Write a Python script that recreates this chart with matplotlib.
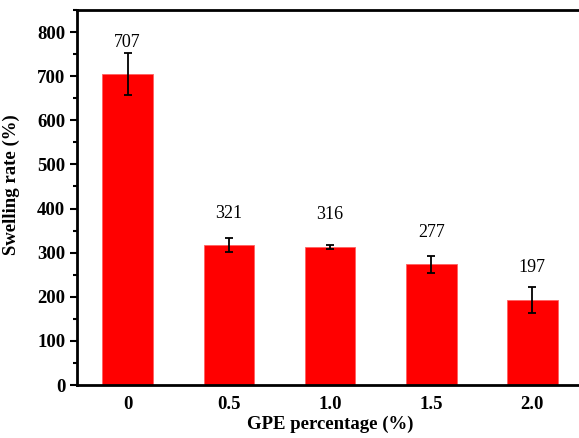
import matplotlib.pyplot as plt
from matplotlib.ticker import MultipleLocator

plt.rcParams["font.family"] = ["Liberation Serif", "DejaVu Serif"]

# data
gpe = ["0", "0.5", "1.0", "1.5", "2.0"]
swelling = [705, 317, 313, 274, 193]
err = [47, 16, 4, 19, 29]
labels = ["707", "321", "316", "277", "197"]

W, H = 579, 438
fig = plt.figure(figsize=(W / 100, H / 100), dpi=100)
ax = fig.add_axes([77 / W, 1 - 385 / H, 506 / W, 375 / H])

x = list(range(len(gpe)))
ax.bar(x, swelling, width=0.5, color="#ff0000", edgecolor="#ff6060", linewidth=0.6,
       yerr=err, error_kw=dict(ecolor="black", elinewidth=1.3, capsize=3, capthick=1.3))

# value labels sit a fixed distance above each bar top
for xi, h, lab in zip(x, swelling, labels):
    ax.annotate(lab, (xi, h), xytext=(0, 23), textcoords="offset points",
                ha="center", va="center", fontsize=13)

ax.set_xlim(-0.5, 4.5)
ax.set_ylim(0, 850)
ax.set_xticks(x)
ax.set_xticklabels(gpe)
ax.yaxis.set_major_locator(MultipleLocator(100))
ax.yaxis.set_minor_locator(MultipleLocator(50))

ax.tick_params(axis="y", which="major", length=5, width=1.5, direction="out", labelsize=13.5)
ax.tick_params(axis="y", which="minor", length=3, width=1.5, direction="out")
ax.tick_params(axis="x", length=0, pad=8, labelsize=13.5)
for lab in ax.get_xticklabels() + ax.get_yticklabels():
    lab.set_fontweight("bold")

for s in ax.spines.values():
    s.set_linewidth(2)

ax.set_xlabel("GPE percentage (%)", fontsize=13.5, fontweight="bold", labelpad=2)
ax.set_ylabel("Swelling rate (%)", fontsize=13.5, fontweight="bold")
ax.yaxis.set_label_coords(-0.113, 0.535)

fig.savefig("out.png", dpi=100)
